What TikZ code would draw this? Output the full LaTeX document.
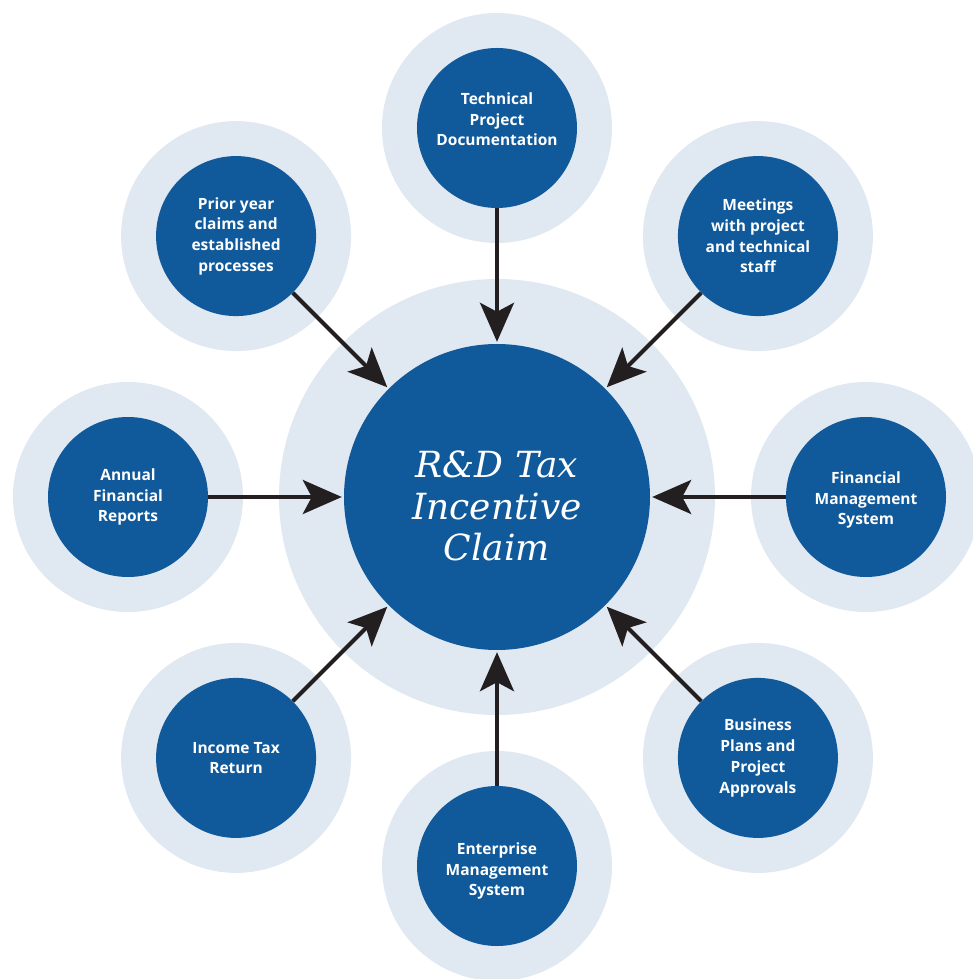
\documentclass[tikz,border=0pt]{standalone}
\usepackage{fontspec}
\setmainfont{Open Sans}
\newfontfamily\claimfont{DejaVu Serif}
\usetikzlibrary{arrows.meta}

\definecolor{rdblue}{HTML}{10599A}
\definecolor{rdhalo}{HTML}{E0E8F1}
\definecolor{rdarrow}{HTML}{231F20}

% text block moved by #1 without changing its centre box
\newcommand{\movedlines}[2]{\raisebox{#1}[\height][\depth]{\begin{tabular}{@{}c@{}}#2\end{tabular}}}

\tikzset{
  source/.style={circle, fill=rdblue, minimum size=160pt, inner sep=0pt,
    text=white, align=center, font=\bfseries\fontsize{15.5}{20.7}\selectfont},
  claim/.style={circle, fill=rdblue, minimum size=306pt, inner sep=0pt,
    text=white, font=\claimfont\itshape\fontsize{36}{41.5}\selectfont},
  feed/.style={draw=rdarrow, line width=4pt, shorten >=2pt,
    -{Stealth[length=39pt, width=34pt, inset=9pt]}}
}

\begin{document}
\begin{tikzpicture}[x=1pt, y=1pt]
	\useasboundingbox (-497,-482) rectangle (476,497);
	\clip (-497,-482) rectangle (476,497);
	% light rings
	\fill[rdhalo] (0,0) circle (218);
	\foreach \a in {0,45,...,315}
		\fill[rdhalo] (\a:369) circle (115);
	% the claim and its sources
	\node[claim] (claim) at (0,0) {\movedlines{-14pt}{R\&D Tax\\Incentive\\Claim}};
	\node[source] (tech) at (90:369) {\movedlines{7pt}{Technical\\Project\\Documentation}};
	\node[source] (meet) at (45:369) {Meetings\\with project\\and technical\\staff};
	\node[source] (fms) at (0:369) {\movedlines{-3pt}{Financial\\Management\\System}};
	\node[source] (plans) at (-45:369) {Business\\Plans and\\Project\\Approvals};
	\node[source] (ems) at (-90:369) {\movedlines{-5pt}{Enterprise\\Management\\System}};
	\node[source] (itr) at (-135:369) {Income Tax\\Return};
	\node[source] (afr) at (180:369) {Annual\\Financial\\Reports};
	\node[source] (prior) at (135:369) {Prior year\\claims and\\established\\processes};
	\foreach \s in {tech,meet,fms,plans,ems,itr,afr,prior}
		\draw[feed] (\s) -- (claim);
\end{tikzpicture}
\end{document}
